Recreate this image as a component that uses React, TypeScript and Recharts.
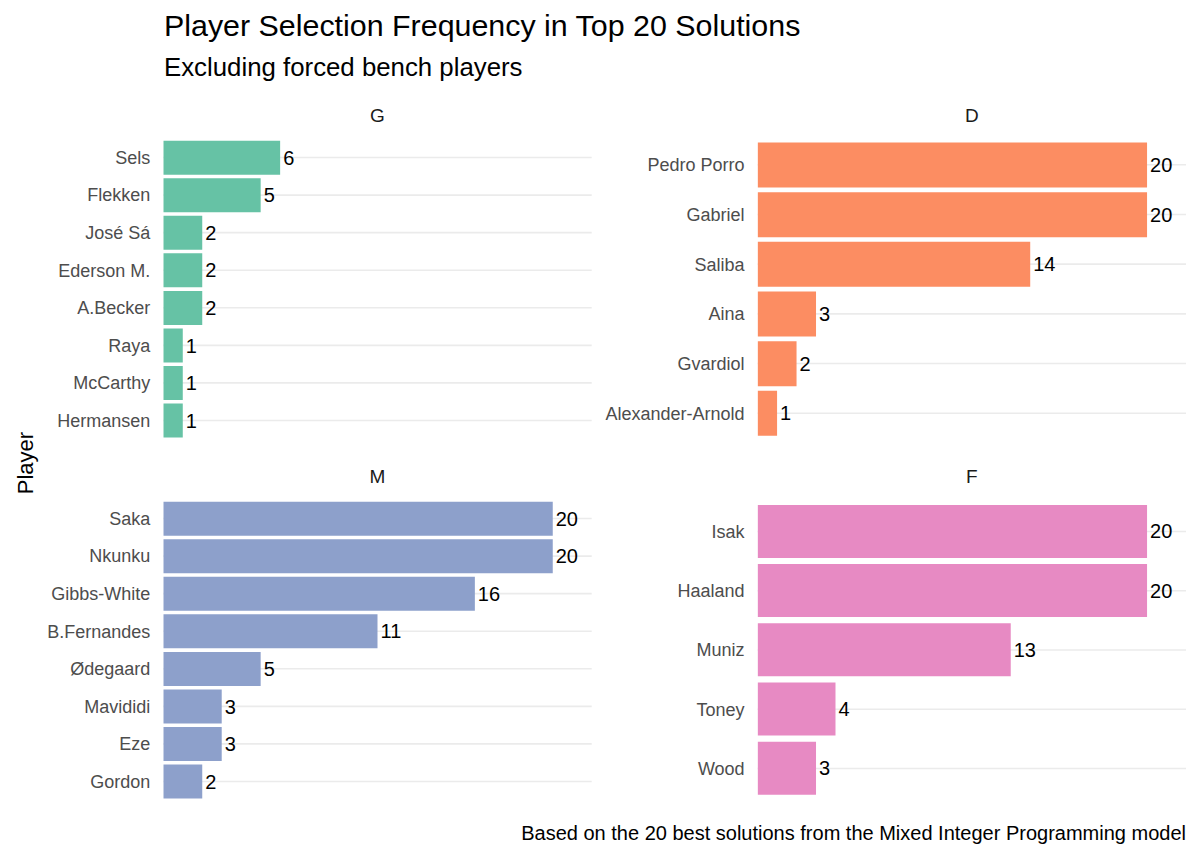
import React from 'react';
import { BarChart, Bar, XAxis, YAxis, CartesianGrid, LabelList } from 'recharts';

// one small set of arrays per position facet, top to bottom
const gkPlayers = ['Sels', 'Flekken', 'José Sá', 'Ederson M.', 'A.Becker', 'Raya', 'McCarthy', 'Hermansen'];
const gkCounts = [6, 5, 2, 2, 2, 1, 1, 1];

const defPlayers = ['Pedro Porro', 'Gabriel', 'Saliba', 'Aina', 'Gvardiol', 'Alexander-Arnold'];
const defCounts = [20, 20, 14, 3, 2, 1];

const midPlayers = ['Saka', 'Nkunku', 'Gibbs-White', 'B.Fernandes', 'Ødegaard', 'Mavididi', 'Eze', 'Gordon'];
const midCounts = [20, 20, 16, 11, 5, 3, 3, 2];

const fwdPlayers = ['Isak', 'Haaland', 'Muniz', 'Toney', 'Wood'];
const fwdCounts = [20, 20, 13, 4, 3];

const xDomain = [0, 22];

const FONT = '"Liberation Sans", Arial, sans-serif';
const PANEL_H = 308;

interface PanelProps {
  label: string;
  players: string[];
  counts: number[];
  color: string;
  left: number; // chart div left
  top: number; // panel top (plot area incl. expansion)
  axisWidth: number;
  rightMargin: number;
}

function Panel({ label, players, counts, color, left, top, axisWidth, rightMargin }: PanelProps) {
  const data = players.map((player, i) => ({ player, count: counts[i] }));
  const n = players.length;
  const unit = PANEL_H / (n + 0.2);
  const pad = 10;
  const plotLeft = left + axisWidth;
  const plotRight = left + 600 - rightMargin;
  const centerX = (plotLeft + plotRight) / 2;

  return (
    <>
      <div
        style={{
          position: 'absolute',
          left: centerX - 50,
          top: top - 30,
          width: 100,
          textAlign: 'center',
          fontSize: 19,
          color: '#1a1a1a',
          lineHeight: '22px',
        }}
      >
        {label}
      </div>
      <div style={{ position: 'absolute', left, top: top - pad }}>
        <BarChart
          width={600}
          height={PANEL_H + pad * 2}
          data={data}
          layout="vertical"
          margin={{ top: pad + 0.1 * unit, bottom: pad + 0.1 * unit, left: 0, right: rightMargin }}
          barCategoryGap="5%"
        >
          <CartesianGrid vertical={false} syncWithTicks stroke="#ebebeb" strokeWidth={1.6} />
          <XAxis type="number" domain={xDomain} hide allowDataOverflow />
          <YAxis
            type="category"
            dataKey="player"
            width={axisWidth}
            interval={0}
            axisLine={false}
            tickLine={false}
            tickSize={6}
            tickMargin={7}
            tick={{ fill: '#4d4d4d', fontSize: 18, fontFamily: FONT }}
          />
          <Bar dataKey="count" fill={color} isAnimationActive={false}>
            <LabelList dataKey="count" position="right" offset={3} fill="#000" fontSize={20} fontFamily={FONT} />
          </Bar>
        </BarChart>
      </div>
    </>
  );
}

export default function App() {
  return (
    <div
      style={{
        position: 'absolute',
        left: 0,
        top: 0,
        width: 1200,
        height: 857,
        background: '#fff',
        fontFamily: FONT,
        overflow: 'hidden',
      }}
    >
      <svg width={1200} height={857} style={{ position: 'absolute', left: 0, top: 0 }}>
        <text x={164} y={36} fontSize={30.4} fill="#000" fontFamily={FONT}>
          Player Selection Frequency in Top 20 Solutions
        </text>
        <text x={164} y={76} fontSize={25.8} fill="#000" fontFamily={FONT}>
          Excluding forced bench players
        </text>
        <text x={1186} y={840} fontSize={20} fill="#000" fontFamily={FONT} textAnchor="end">
          Based on the 20 best solutions from the Mixed Integer Programming model
        </text>
        <text
          x={33}
          y={463}
          fontSize={22}
          fill="#000"
          fontFamily={FONT}
          textAnchor="middle"
          transform="rotate(-90 33 463)"
        >
          Player
        </text>
      </svg>
      <Panel label="G" players={gkPlayers} counts={gkCounts} color="#66C2A5" left={0} top={134.5} axisWidth={163.3} rightMargin={8.3} />
      <Panel label="D" players={defPlayers} counts={defCounts} color="#FC8D62" left={600} top={134.5} axisWidth={157.6} rightMargin={14} />
      <Panel label="M" players={midPlayers} counts={midCounts} color="#8DA0CB" left={0} top={496} axisWidth={163.3} rightMargin={8.3} />
      <Panel label="F" players={fwdPlayers} counts={fwdCounts} color="#E78AC3" left={600} top={496} axisWidth={157.6} rightMargin={14} />
    </div>
  );
}
